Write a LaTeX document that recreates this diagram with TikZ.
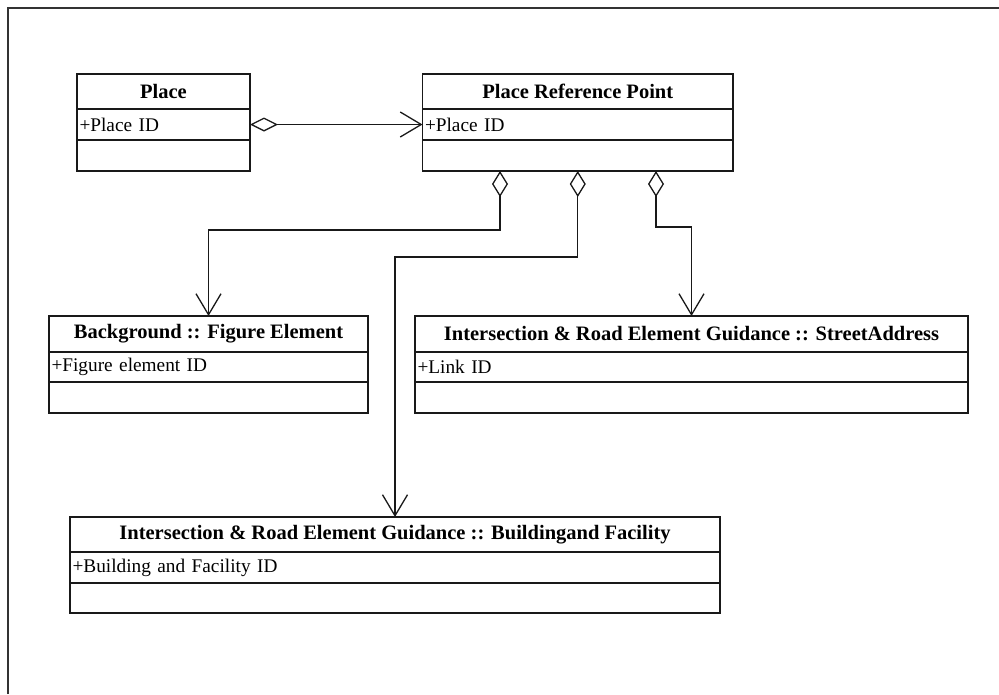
\documentclass[tikz,border=0pt]{standalone}
\usepackage{fontspec}
\setmainfont{Liberation Serif}
\usetikzlibrary{arrows.meta}
\begin{document}
\begin{tikzpicture}[x=1pt,y=-1pt,
  band/.style={draw=black!90,line width=1.7pt,inner sep=0pt,outer sep=0pt,minimum height=#1},
  titleband/.style={band=#1,font=\fontsize{20.5}{22}\selectfont\bfseries},
  attrband/.style 2 args={band=#1,text width=#2-5pt,minimum width=#2,inner xsep=2.5pt,align=left,font=\fontsize{19.3}{21}\selectfont},
  agg/.style={draw=black!90,line width=1.2pt,
    {Diamond[open,length=26pt,width=16pt,line width=1.3pt]}-{Straight Barb[length=21pt,width=25pt,line width=1.3pt]}}
]
\useasboundingbox (0,0) rectangle (999,694);
% outer frame
\draw[line width=1.8pt,black!80] (8,694) -- (8,8) -- (999,8);

% Place
\node[titleband=35pt,minimum width=173pt] (pltitle) at (163.5,91.5) {Place};
\node[attrband={31pt}{173pt}] (plattr) at (163.5,124.5) {+Place ID};
\node[band=31pt,minimum width=173pt] (plops) at (163.5,155.5) {};

% Place Reference Point
\node[titleband=35pt,minimum width=310.5pt] (prtitle) at (577.75,91.5) {Place Reference Point};
\node[attrband={31pt}{310.5pt}] (prattr) at (577.75,124.5) {+Place ID};
\node[band=31pt,minimum width=310.5pt] (props) at (577.75,155.5) {};

% Background :: Figure Element
\node[titleband=36pt,minimum width=319pt] (bgtitle) at (208.5,334) {Background :: Figure Element};
\node[attrband={30pt}{319pt}] (bgattr) at (208.5,367) {+Figure element ID};
\node[band=31pt,minimum width=319pt] (bgops) at (208.5,397.5) {};

% Intersection & Road Element Guidance :: StreetAddress
\node[titleband=36pt,minimum width=553pt] (sttitle) at (691.5,334) {Intersection \& Road Element Guidance :: StreetAddress};
\node[attrband={30pt}{553pt}] (stattr) at (691.5,367) {+Link ID};
\node[band=31pt,minimum width=553pt] (stops) at (691.5,397.5) {};

% Intersection & Road Element Guidance :: Buildingand Facility
\node[titleband=35pt,minimum width=650pt] (bdtitle) at (395,534.5) {Intersection \& Road Element Guidance :: Buildingand Facility};
\node[attrband={31pt}{650pt}] (bdattr) at (395,567.5) {+Building and Facility ID};
\node[band=30pt,minimum width=650pt] (bdops) at (395,598) {};

% aggregations
\draw[agg,{Diamond[open,length=28pt,width=14pt,line width=1.3pt]}-{Straight Barb[length=21pt,width=25pt,line width=1.3pt]}]
  (plattr.east) -- (prattr.west);
\draw[agg] ([xshift=-77.75pt]props.south) -- ++(0,59) -| (bgtitle.north);
\draw[agg] (props.south) -- ++(0,86) -| (bdtitle.north);
\draw[agg] ([xshift=78.25pt]props.south) -- ++(0,56) -| (sttitle.north);
\end{tikzpicture}
\end{document}
